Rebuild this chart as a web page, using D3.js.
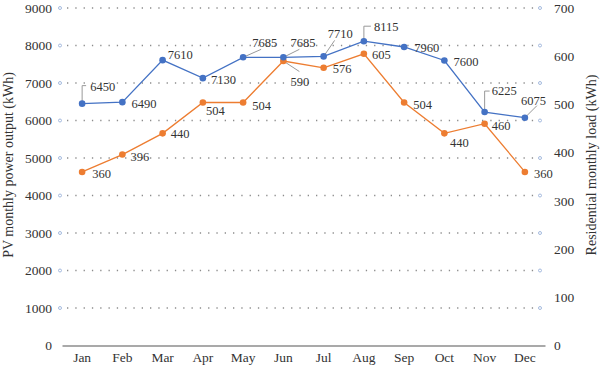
<!DOCTYPE html>
<html>
<head>
<meta charset="utf-8">
<script src="https://cdn.jsdelivr.net/npm/d3@7"></script>
<style>
  body { margin: 0; background: #fff; }
  svg, svg text { font-family: "Liberation Serif", "Times New Roman", serif; }
</style>
</head>
<body>
<svg id="vis" width="600" height="368"></svg>
<script>
const months = ["Jan", "Feb", "Mar", "Apr", "May", "Jun", "Jul", "Aug", "Sep", "Oct", "Nov", "Dec"];
const pvOutput = [6450, 6490, 7610, 7130, 7685, 7685, 7710, 8115, 7960, 7600, 6225, 6075];
const load = [360, 396, 440, 504, 504, 590, 576, 605, 504, 440, 460, 360];
const leftTicks = [0, 1000, 2000, 3000, 4000, 5000, 6000, 7000, 8000, 9000];
const rightTicks = [0, 100, 200, 300, 400, 500, 600, 700];

// label placement relative to each point (px); leader = polyline from point
const pvLabelPos = [
  {dx: 8, dy: -13, leader: [[0, 0], [0, -18], [4, -18]]},
  {dx: 9, dy: 6},
  {dx: 5, dy: -1},
  {dx: 8, dy: 6},
  {dx: 9, dy: -10, leader: [[0, 0], [18, -8]]},
  {dx: 7, dy: -10, leader: [[0, 0], [16, -8]]},
  {dx: 4, dy: -18, leader: [[0, 0], [11, -16]]},
  {dx: 10, dy: -10, leader: [[0, 0], [0, -15], [7, -15]]},
  {dx: 10, dy: 5},
  {dx: 9, dy: 5.5},
  {dx: 7, dy: -17, leader: [[0, 0], [0, -21], [5, -21]]},
  {dx: -4, dy: -13, leader: [[0, 0], [12, -12]]}
];
const loadLabelPos = [
  {dx: 10, dy: 6},
  {dx: 8, dy: 6.5},
  {dx: 8, dy: 4.5},
  {dx: 3, dy: 12},
  {dx: 9, dy: 7},
  {dx: 7, dy: 25, leader: [[0, 0], [16, 10.5]]},
  {dx: 9, dy: 5},
  {dx: 8, dy: 5},
  {dx: 9, dy: 6},
  {dx: 5.5, dy: 13.5},
  {dx: 7, dy: 6.5},
  {dx: 9, dy: 6}
];

const blue = "#4472c4", orange = "#ed7d31";
const margin = {left: 62, right: 55, top: 8, bottom: 22.5};
const W = 600, H = 368;

const svg = d3.select("#vis");

const x = d3.scaleBand().domain(months).range([margin.left, W - margin.right]);
const yL = d3.scaleLinear().domain([0, 9000]).range([H - margin.bottom, margin.top]);
const yR = d3.scaleLinear().domain([0, 700]).range([H - margin.bottom, margin.top]);
const cx = m => x(m) + x.bandwidth() / 2;

// gridlines (left-axis ticks)
const gridX0 = margin.left - 2, gridX1 = W - margin.right - 5;
svg.append("g")
  .selectAll("line")
  .data(leftTicks.filter(d => d > 0))
  .join("line")
  .attr("x1", gridX0).attr("x2", gridX1)
  .attr("y1", d => yL(d)).attr("y2", d => yL(d))
  .attr("stroke", "#8c8c8c")
  .attr("stroke-width", 1.3)
  .attr("stroke-dasharray", "1.3,7")
  .attr("stroke-dashoffset", -7);

svg.append("g")
  .selectAll("circle")
  .data(leftTicks.filter(d => d > 0).flatMap(d => [[gridX0, yL(d)], [gridX1, yL(d)]]))
  .join("circle")
  .attr("cx", d => d[0]).attr("cy", d => d[1])
  .attr("r", 1.5)
  .attr("fill", "#fff")
  .attr("stroke", "#8fa9d6")
  .attr("stroke-width", 0.8);

// left axis
const leftAxis = svg.append("g")
  .attr("transform", `translate(${margin.left},0)`)
  .call(d3.axisLeft(yL).tickValues(leftTicks).tickFormat(d3.format("d")).tickSize(0).tickPadding(10));
leftAxis.select(".domain").remove();

// right axis
const rightAxis = svg.append("g")
  .attr("transform", `translate(${W - margin.right + 9},0)`)
  .call(d3.axisRight(yR).tickValues(rightTicks).tickFormat(d3.format("d")).tickSize(0).tickPadding(0));
rightAxis.select(".domain").remove();

// bottom axis
const bottomAxis = svg.append("g")
  .attr("transform", `translate(0,${H - margin.bottom})`)
  .call(d3.axisBottom(x).tickSize(0).tickPadding(7));
bottomAxis.select(".domain").attr("stroke", "#555").attr("stroke-width", 1.2);

[leftAxis, rightAxis, bottomAxis].forEach(a => a.attr("font-family", null).attr("font-size", null));
svg.selectAll(".tick text")
  .style("font-family", "'Liberation Serif', serif")
  .style("font-size", "13.5px")
  .attr("fill", "#333");

// axis titles
svg.append("text")
  .attr("transform", "translate(13,165) rotate(-90)")
  .attr("text-anchor", "middle")
  .attr("font-size", 14)
  .attr("fill", "#333")
  .text("PV monthly power output (kWh)");

svg.append("text")
  .attr("transform", "translate(596,165) rotate(-90)")
  .attr("text-anchor", "middle")
  .attr("font-size", 14)
  .attr("fill", "#333")
  .text("Residential monthly load (kWh)");

function drawSeries(values, y, color, labelPos) {
  const pts = values.map((v, i) => [cx(months[i]), y(v)]);
  const g = svg.append("g");

  g.selectAll(".leader")
    .data(pts.map((p, i) => ({p, pos: labelPos[i]})).filter(d => d.pos.leader))
    .join("polyline")
    .attr("points", d => d.pos.leader.map(([lx, ly]) => [d.p[0] + lx, d.p[1] + ly]).join(" "))
    .attr("fill", "none")
    .attr("stroke", "#999")
    .attr("stroke-width", 1);

  g.append("path")
    .attr("d", d3.line()(pts))
    .attr("fill", "none")
    .attr("stroke", color)
    .attr("stroke-width", 1.3);

  g.selectAll("circle")
    .data(pts)
    .join("circle")
    .attr("cx", d => d[0]).attr("cy", d => d[1])
    .attr("r", 3.3)
    .attr("fill", color);

  g.selectAll("text")
    .data(values)
    .join("text")
    .attr("x", (d, i) => pts[i][0] + labelPos[i].dx)
    .attr("y", (d, i) => pts[i][1] + labelPos[i].dy)
    .attr("font-size", 12.5)
    .attr("fill", "#333")
    .text(d => d);
}

drawSeries(load, yR, orange, loadLabelPos);
drawSeries(pvOutput, yL, blue, pvLabelPos);
</script>
</body>
</html>
